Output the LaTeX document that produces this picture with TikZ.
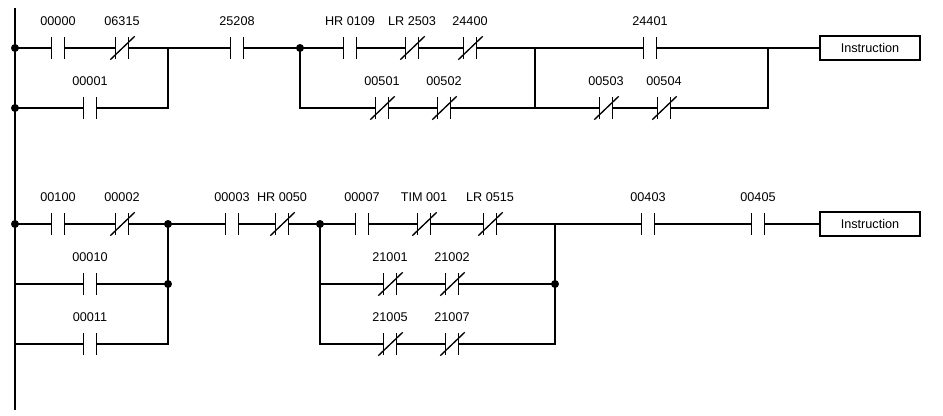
\documentclass[tikz,border=0pt]{standalone}
\usepackage{fontspec}
\setmainfont{Liberation Sans}
\usetikzlibrary{positioning,calc}

\begin{document}
\begin{tikzpicture}[
    x=0.75pt, y=-0.75pt,
    line width=1pt,
    font=\fontsize{9.5}{11}\selectfont,
    contact/.style={
        rectangle,
        inner sep=0pt,
        minimum width=9pt,
        minimum height=15pt,
        label={[label distance=5pt]above:#1}
    },
    instr/.style={
        rectangle,
        draw,
        line width=0.8pt,
        minimum width=75pt,
        minimum height=18pt
    },
    dot/.style={circle, fill, inner sep=0pt, minimum size=6pt}
]
\useasboundingbox (0,0) rectangle (943,415);

% Power rail
\coordinate (railt) at (15,8);
\coordinate (railb) at (15,410);
\draw (railt) -- (railb);

% First rung
\coordinate (d1) at (15,48);
\coordinate (d1b) at (15,108);
\coordinate (j1) at (168,48);
\coordinate (j2) at (300,48);
\coordinate (j3) at (535,48);
\coordinate (j4) at (768,48);
\node [contact=00000] (r1a) at (58,48) {};
\node [contact=06315] (r1b) at (122,48) {};
\node [contact=00001] (r1c) at (90,108) {};
\node [contact=25208] (r1d) at (237,48) {};
\node [contact=HR 0109] (r1e) at (350,48) {};
\node [contact=LR 2503] (r1f) at (412,48) {};
\node [contact=24400] (r1g) at (470,48) {};
\node [contact=00501] (r1h) at (382,108) {};
\node [contact=00502] (r1i) at (444,108) {};
\node [contact=24401] (r1j) at (650,48) {};
\node [contact=00503] (r1k) at (606,108) {};
\node [contact=00504] (r1l) at (664,108) {};
\node [instr] (i1) at (870,48) {Instruction};

\draw (d1) -- (r1a) -- (r1b) -- (j1) -- (r1d) -- (j2) -- (r1e) -- (r1f) -- (r1g) -- (j3) -- (r1j) -- (j4) -- (i1);
\draw (d1b) -- (r1c) -| (j1);
\draw (j2) |- (r1h) -- (r1i) -| (j3);
\draw (j3) |- (r1k) -- (r1l) -| (j4);

% Second rung
\coordinate (d2) at (15,224);
\coordinate (d2b) at (15,284);
\coordinate (d2c) at (15,344);
\coordinate (k1) at (168,224);
\coordinate (k1b) at (168,284);
\coordinate (k2) at (320,224);
\coordinate (k3) at (555,224);
\coordinate (k3b) at (555,284);
\node [contact=00100] (r2a) at (58,224) {};
\node [contact=00002] (r2b) at (122,224) {};
\node [contact=00010] (r2c) at (90,284) {};
\node [contact=00011] (r2d) at (90,344) {};
\node [contact=00003] (r2e) at (232,224) {};
\node [contact=HR 0050] (r2f) at (282,224) {};
\node [contact=00007] (r2g) at (362,224) {};
\node [contact=TIM 001] (r2h) at (424,224) {};
\node [contact=LR 0515] (r2i) at (490,224) {};
\node [contact=21001] (r2j) at (390,284) {};
\node [contact=21002] (r2k) at (452,284) {};
\node [contact=21005] (r2l) at (390,344) {};
\node [contact=21007] (r2m) at (452,344) {};
\node [contact=00403] (r2n) at (648,224) {};
\node [contact=00405] (r2o) at (758,224) {};
\node [instr] (i2) at (870,224) {Instruction};

\draw (d2) -- (r2a) -- (r2b) -- (k1) -- (r2e) -- (r2f) -- (k2) -- (r2g) -- (r2h) -- (r2i) -- (k3) -- (r2n) -- (r2o) -- (i2);
\draw (d2b) -- (r2c) -- (k1b);
\draw (d2c) -- (r2d) -| (k1);
\draw (k2) |- (r2j) -- (r2k) -- (k3b);
\draw (k2) |- (r2l) -- (r2m) -| (k3);

% Contact bars
\foreach \c in {r1a,r1b,r1c,r1d,r1e,r1f,r1g,r1h,r1i,r1j,r1k,r1l,
                r2a,r2b,r2c,r2d,r2e,r2f,r2g,r2h,r2i,r2j,r2k,r2l,r2m,r2n,r2o}
    \draw (\c.north west) -- (\c.south west) (\c.north east) -- (\c.south east);

% Normally closed slashes
\foreach \c in {r1b,r1f,r1g,r1h,r1i,r1k,r1l,
                r2b,r2f,r2h,r2i,r2j,r2k,r2l,r2m}
    \draw ($(\c.south west)+(-5,1)$) -- ($(\c.north east)+(6,-1)$);

% Junctions
\foreach \p in {d1,d1b,j2,d2,k1,k1b,k2,k3b}
    \node [dot] at (\p) {};

\end{tikzpicture}
\end{document}
